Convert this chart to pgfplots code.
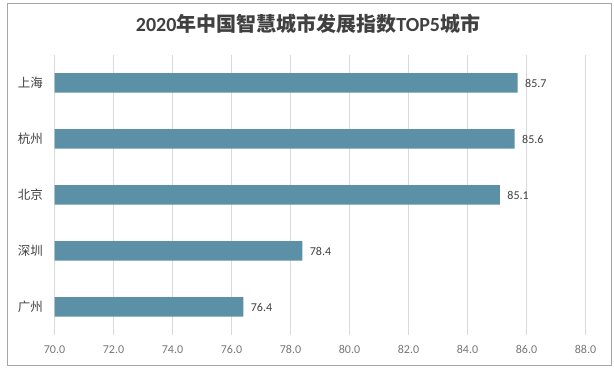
\documentclass[border=0pt]{standalone}
\usepackage{pgfplots}
\pgfplotsset{compat=1.18}
\usepackage{fontspec}
\setmainfont{Carlito}
\newfontfamily\cjk{Noto Sans CJK SC}
\definecolor{barc}{RGB}{91,144,166}
\definecolor{gridc}{RGB}{217,217,217}
\definecolor{txt}{RGB}{64,64,64}
\definecolor{tickc}{RGB}{118,118,118}
\definecolor{framec}{RGB}{166,166,166}
\begin{document}
\begin{tikzpicture}[x=1pt,y=1pt]
\path[use as bounding box] (0,0) rectangle (614,369);
\draw[framec, line width=1pt] (7.5,3.5) rectangle (611.5,365.5);
\node[txt, font=\fontsize{20}{22}\selectfont\bfseries] at (308,345) {2020{\cjk 年中国智慧城市发展指数}TOP5{\cjk 城市}};
\begin{axis}[
  at={(54.5pt,34pt)}, anchor=south west,
  scale only axis, width=531pt, height=280pt,
  xbar, bar width=19.5pt,
  xmin=70, xmax=88, xtick={70,72,74,76,78,80,82,84,86,88},
  ymin=-0.5, ymax=4.5, ytick={0,1,2,3,4},
  yticklabels={广州,深圳,北京,杭州,上海},
  axis line style={draw=none},
  major tick length=0pt,
  xmajorgrids, major grid style={gridc, line width=0.8pt},
  xticklabel style={tickc, font=\fontsize{12}{14}\selectfont, yshift=-7pt,
    /pgf/number format/.cd, fixed, fixed zerofill, precision=1, assume math mode=true},
  yticklabel style={txt, font=\cjk\fontsize{12.5}{14}\selectfont, xshift=-8pt},
  nodes near coords={\pgfmathprintnumber[fixed,fixed zerofill,precision=1,assume math mode=true]{\pgfplotspointmeta}},
  nodes near coords style={txt, font=\fontsize{12}{14}\selectfont, anchor=west, xshift=4pt},
]
\addplot[fill=barc, draw=none] coordinates {(85.7,4) (85.6,3) (85.1,2) (78.4,1) (76.4,0)};
\end{axis}
\end{tikzpicture}
\end{document}
